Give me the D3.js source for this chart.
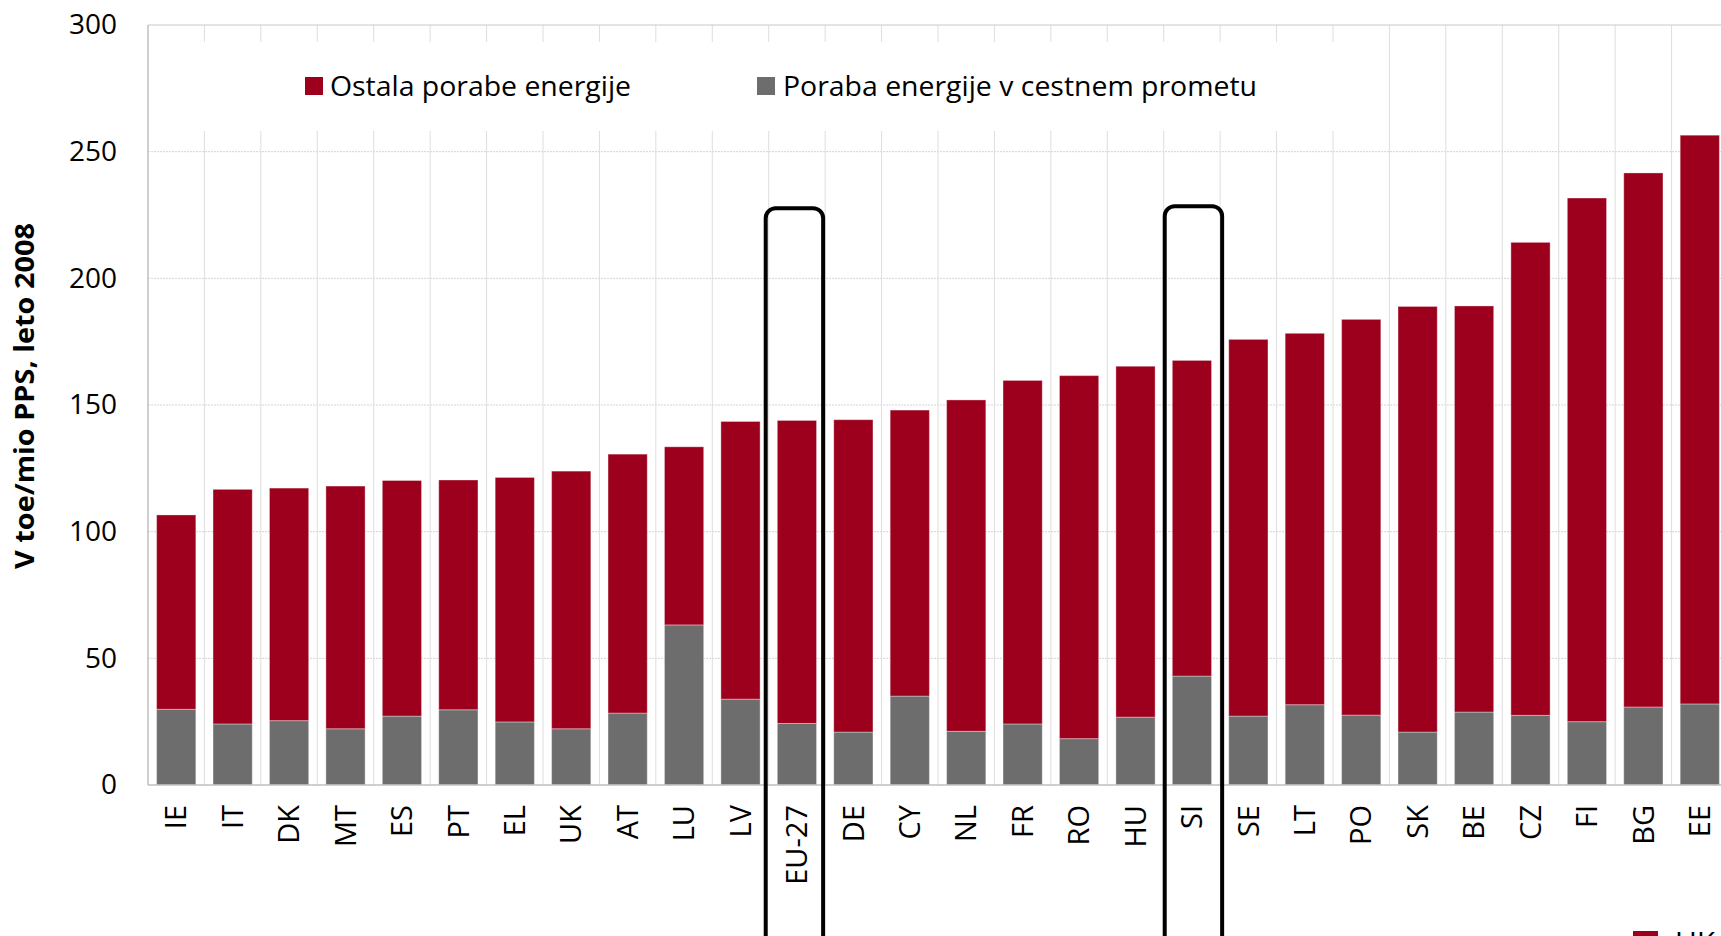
<!DOCTYPE html>
<html>
<head>
<meta charset="utf-8">
<script src="https://cdn.jsdelivr.net/npm/d3@7"></script>
<style>
  html, body { margin: 0; padding: 0; background: #fff; overflow: hidden; }
  svg { display: block; font-family: "Open Sans", sans-serif; }
</style>
</head>
<body>
<svg id="chart" width="1721" height="936"></svg>
<script>
// ---- data ----
const categories = ["IE","IT","DK","MT","ES","PT","EL","UK","AT","LU","LV","EU-27","DE","CY","NL","FR","RO","HU","SI","SE","LT","PO","SK","BE","CZ","FI","BG","EE"];
const roadValues  = [29.9,24.1,25.4,22.2,27.2,29.7,24.9,22.2,28.4,63.2,33.9,24.3,20.9,35.1,21.2,24.1,18.3,26.8,43.0,27.2,31.7,27.6,20.9,28.8,27.5,25.0,30.8,32.0];
const otherValues = [76.7,92.6,91.8,95.8,93.0,90.7,96.5,101.7,102.2,70.3,109.6,119.6,123.3,112.9,130.8,135.6,143.3,138.5,124.6,148.7,146.6,156.2,168.0,160.3,186.7,206.7,210.8,224.5];
const seriesNames = ["Ostala porabe energije", "Poraba energije v cestnem prometu"];
const yTicks = [0, 50, 100, 150, 200, 250, 300];
const yTitle = "V toe/mio PPS, leto 2008";
const highlighted = ["EU-27", "SI"];
const highlightTop = [227.7, 228.5];
const secondLegend = "UK";

(function () {
// ---- layout ----
const svg = d3.select("#chart");
const mLeft = 148, mTop = 25, mBottom = 785, plotW = 1580;
const colRed = "#9c001c", colGray = "#6d6d6d";

const x = d3.scaleBand().domain(categories).range([mLeft, mLeft + plotW]).paddingInner(0.305).paddingOuter(0.1525);
const y = d3.scaleLinear().domain([0, 300]).range([mBottom, mTop]);

// horizontal gridlines
svg.append("g").selectAll("line").data(yTicks.filter(d => d > 0 && d < 300)).join("line")
  .attr("x1", mLeft).attr("x2", mLeft + plotW)
  .attr("y1", d => y(d)).attr("y2", d => y(d))
  .attr("stroke", "#d4d4d4").attr("stroke-width", 1).attr("stroke-dasharray", "2,1");

// vertical gridlines at category boundaries
const bounds = d3.range(1, categories.length + 1).map(i => mLeft + i * x.step());
svg.append("g").selectAll("line").data(bounds).join("line")
  .attr("x1", d => d).attr("x2", d => d)
  .attr("y1", mTop).attr("y2", mBottom)
  .attr("stroke", "#dedede").attr("stroke-width", 1);

// legend background (hides gridlines)
svg.append("rect").attr("x", mLeft + 1).attr("y", 42).attr("width", 1360 - mLeft).attr("height", 89).attr("fill", "#fff");

// stacked bars
const rows = categories.map((c, i) => ({ cat: c, road: roadValues[i], other: otherValues[i] }));
const stack = d3.stack().keys(["road", "other"])(rows);
const colors = { road: colGray, other: colRed };
svg.append("g").selectAll("g").data(stack).join("g")
  .attr("fill", d => colors[d.key])
  .selectAll("rect").data(d => d).join("rect")
  .attr("x", d => x(d.data.cat))
  .attr("width", x.bandwidth())
  .attr("y", d => y(d[1]))
  .attr("height", d => y(d[0]) - y(d[1]))
  .attr("stroke", "rgba(255,255,255,0.35)").attr("stroke-width", 1);

// axis lines / border
svg.append("line").attr("x1", mLeft).attr("x2", mLeft + plotW).attr("y1", mTop).attr("y2", mTop).attr("stroke", "#c8c8c8");
svg.append("line").attr("x1", mLeft).attr("x2", mLeft).attr("y1", mTop).attr("y2", mBottom).attr("stroke", "#bfbfbf").attr("stroke-width", 1.5);
svg.append("line").attr("x1", mLeft).attr("x2", mLeft + plotW).attr("y1", mBottom).attr("y2", mBottom).attr("stroke", "#bfbfbf").attr("stroke-width", 1.5);

// y axis labels
const yAxis = svg.append("g").attr("transform", `translate(${mLeft},0)`)
  .call(d3.axisLeft(y).tickValues(yTicks).tickSize(0).tickPadding(31).tickFormat(d3.format("d")));
yAxis.select(".domain").remove();
yAxis.selectAll("text").attr("font-size", 28).attr("font-family", "Open Sans").attr("fill", "#000");

// x axis labels
const xAxis = svg.append("g").attr("transform", `translate(0,${mBottom})`)
  .call(d3.axisBottom(x).tickSize(0));
xAxis.select(".domain").remove();
xAxis.selectAll("text")
  .attr("font-size", 29).attr("font-family", "Open Sans").attr("fill", "#000")
  .attr("transform", "rotate(-90)")
  .attr("x", -20).attr("y", 0).attr("dy", "0.35em")
  .attr("text-anchor", "end");

// y title
svg.append("text")
  .attr("transform", "translate(34,396) rotate(-90)")
  .attr("text-anchor", "middle")
  .attr("font-size", 26).attr("font-weight", "bold").attr("fill", "#000")
  .attr("textLength", 346).attr("lengthAdjust", "spacingAndGlyphs")
  .text(yTitle);

// legend
const legendItems = [
  { name: seriesNames[0], color: colRed, sx: 305, tx: 330, w: 301 },
  { name: seriesNames[1], color: colGray, sx: 757, tx: 783, w: 474 }
];
const lg = svg.append("g").selectAll("g").data(legendItems).join("g");
lg.append("rect").attr("x", d => d.sx).attr("y", 77).attr("width", 18).attr("height", 18).attr("fill", d => d.color);
lg.append("text").attr("x", d => d.tx).attr("y", 96)
  .attr("font-size", 28).attr("fill", "#000")
  .attr("textLength", d => d.w).attr("lengthAdjust", "spacingAndGlyphs")
  .text(d => d.name);

// highlight rounded rectangles (extend past the bottom edge)
svg.append("g").selectAll("rect").data(highlighted).join("rect")
  .attr("x", (d, i) => x(d) - x.step() * x.paddingInner() / 2 + (i === 0 ? -3 : 1))
  .attr("y", (d, i) => y(highlightTop[i]))
  .attr("width", x.step() + 1)
  .attr("height", (d, i) => 960 - y(highlightTop[i]))
  .attr("rx", 10).attr("ry", 10)
  .attr("fill", "none").attr("stroke", "#000").attr("stroke-width", 4);

// partially visible second legend at bottom right
svg.append("rect").attr("x", 1633).attr("y", 931).attr("width", 25).attr("height", 14).attr("fill", colRed);
svg.append("text").attr("x", 1675).attr("y", 953).attr("font-size", 30).attr("fill", "#000").text(secondLegend);
})();
</script>
</body>
</html>
